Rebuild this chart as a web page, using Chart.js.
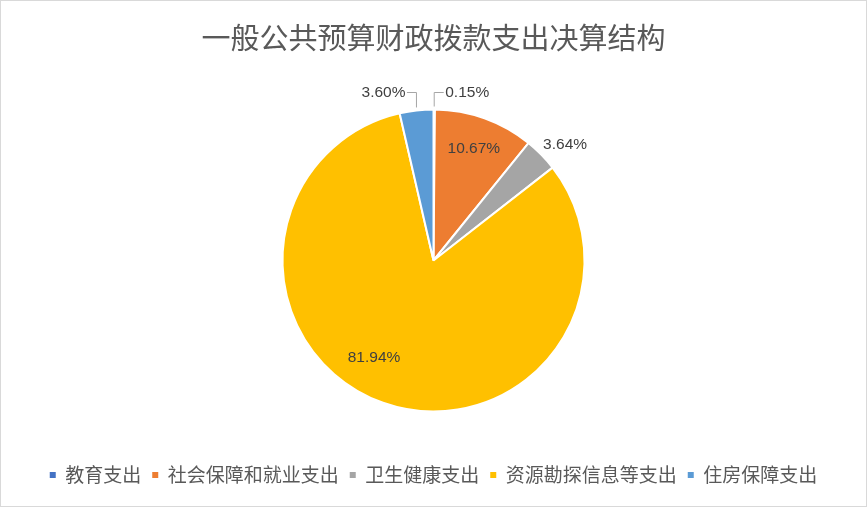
<!DOCTYPE html>
<html lang="zh">
<head>
  <meta charset="UTF-8" />
  <title>一般公共预算财政拨款支出决算结构</title>
  <script src="https://cdn.jsdelivr.net/npm/chart.js"></script>
  <style>
    html, body { margin: 0; padding: 0; background: #fff; }
    canvas { display: block; }
  </style>
</head>
<body>
  <canvas id="pieChart" width="867" height="507"></canvas>
  <script>
    // data
    const categories = ['教育支出', '社会保障和就业支出', '卫生健康支出', '资源勘探信息等支出', '住房保障支出'];
    const shares = [0.15, 10.67, 3.64, 81.94, 3.60];
    const colors = ['#4472C4', '#ED7D31', '#A5A5A5', '#FFC000', '#5B9BD5'];

    // label placement per slice (style only)
    const labelMode = ['calloutRight', 'inside', 'outside', 'inside', 'calloutLeft'];
    const labelRadius = [0, 0.79, 1.16, 0.755, 0];
    const labelTurn = [0, 0, 3.2, 11.9, 0];   // degrees, nudges away from mid angle

    const cjk = '"Noto Sans CJK SC", "Microsoft YaHei", sans-serif';

    const frame = {
      id: 'frame',
      beforeDraw(chart) {
        const c = chart.ctx;
        c.save();
        c.fillStyle = '#fff';
        c.fillRect(0, 0, chart.width, chart.height);
        c.strokeStyle = '#D9D9D9';
        c.lineWidth = 1;
        c.strokeRect(0.5, 0.5, chart.width - 1, chart.height - 1);
        c.restore();
      }
    };

    const sliceLabels = {
      id: 'sliceLabels',
      afterDatasetsDraw(chart) {
        const c = chart.ctx;
        const meta = chart.getDatasetMeta(0);
        c.save();
        c.font = '15.5px "Liberation Sans", Arial, sans-serif';
        c.fillStyle = '#404040';
        c.textBaseline = 'middle';
        meta.data.forEach((arc, i) => {
          const p = arc.getProps(['x', 'y', 'startAngle', 'endAngle', 'outerRadius'], true);
          const mid = (p.startAngle + p.endAngle) / 2;
          const text = shares[i].toFixed(2) + '%';
          const mode = labelMode[i];
          if (mode === 'inside' || mode === 'outside') {
            const a = mid + labelTurn[i] * Math.PI / 180;
            const r = p.outerRadius * labelRadius[i];
            c.textAlign = 'center';
            c.fillText(text, p.x + Math.cos(a) * r, p.y + Math.sin(a) * r);
          } else {
            // leader line: straight up from the rim, then a short elbow
            const sx = p.x + Math.cos(mid) * p.outerRadius;
            const sy = p.y + Math.sin(mid) * p.outerRadius - 3;
            const ty = p.y - p.outerRadius - 17;
            const dir = mode === 'calloutRight' ? 1 : -1;
            const ex = sx + dir * 9.5;
            c.strokeStyle = '#A6A6A6';
            c.lineWidth = 1;
            c.beginPath();
            c.moveTo(sx, sy);
            c.lineTo(sx, ty);
            c.lineTo(ex, ty);
            c.stroke();
            c.textAlign = dir > 0 ? 'left' : 'right';
            c.fillText(text, ex + dir * 1.5, ty);
          }
        });
        c.restore();
      }
    };

    new Chart(document.getElementById('pieChart'), {
      type: 'pie',
      data: {
        labels: categories,
        datasets: [{
          data: shares,
          backgroundColor: colors,
          borderColor: '#fff',
          borderWidth: 2,
          radius: 151
        }]
      },
      options: {
        responsive: false,
        animation: false,
        devicePixelRatio: 1,
        layout: { padding: { top: 0, bottom: 12.5, left: 0, right: 0 } },
        plugins: {
          title: {
            display: true,
            text: '一般公共预算财政拨款支出决算结构',
            color: '#595959',
            font: { family: cjk, size: 29, weight: 'normal' },
            padding: { top: 20.1, bottom: 11.6 }
          },
          legend: {
            position: 'bottom',
            labels: {
              color: '#595959',
              boxWidth: 6,
              boxHeight: 6,
              padding: 11,
              font: { family: cjk, size: 19 },
              generateLabels(chart) {
                return chart.data.labels.map((text, i) => ({
                  text,
                  fillStyle: colors[i],
                  strokeStyle: colors[i],
                  lineWidth: 0,
                  fontColor: '#595959',
                  hidden: false,
                  index: i
                }));
              }
            }
          },
          tooltip: { enabled: false }
        }
      },
      plugins: [frame, sliceLabels]
    });
  </script>
</body>
</html>
